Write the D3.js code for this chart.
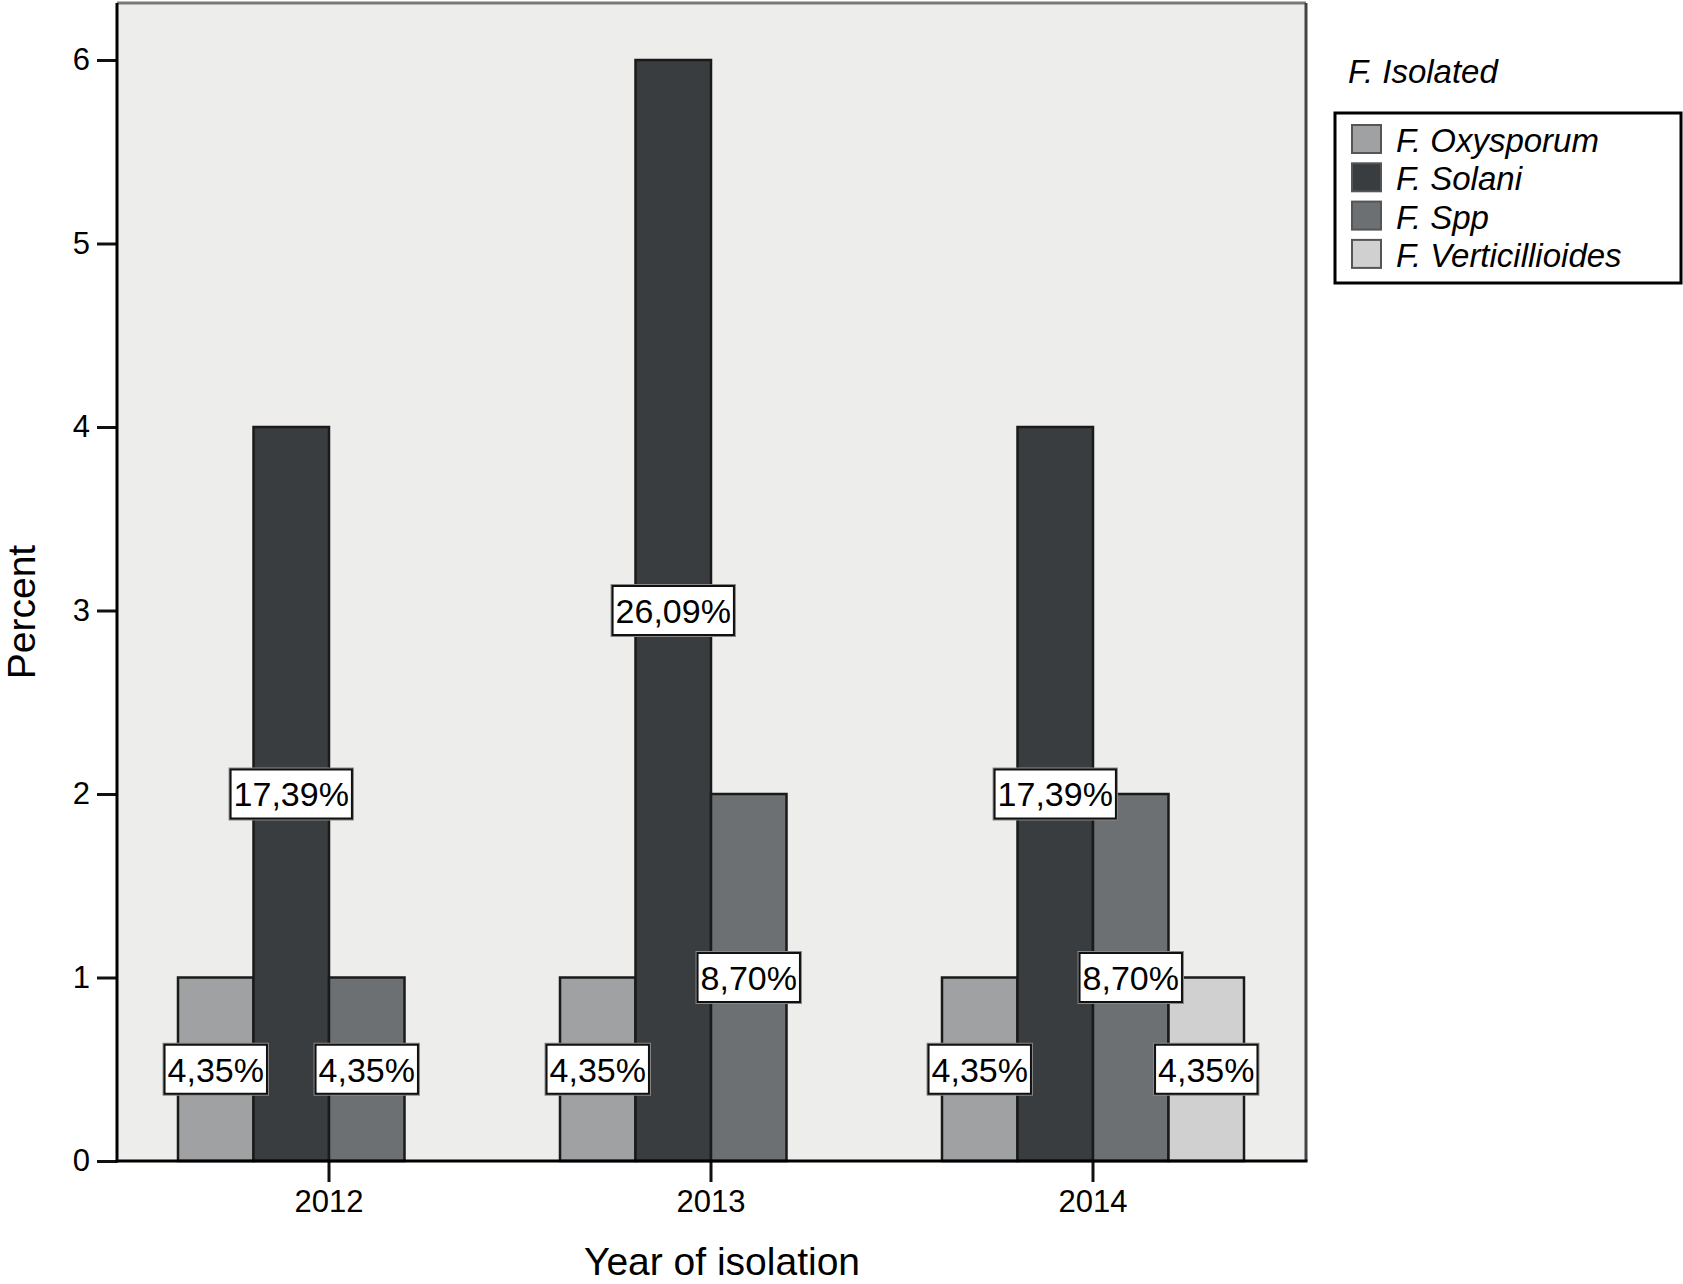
<!DOCTYPE html>
<html>
<head>
<meta charset="utf-8">
<script src="https://cdn.jsdelivr.net/npm/d3@7"></script>
<style>
  body { margin: 0; background: #fff; }
  svg { display: block; font-family: "Liberation Sans", Arial, sans-serif; }
</style>
</head>
<body>
<div id="graphicContainer"></div>
<script>
var years = ["2012", "2013", "2014"],
	species = ["F. Oxysporum", "F. Solani", "F. Spp", "F. Verticillioides"],
	colors = ["#9fa1a2", "#3a3d3f", "#6d7072", "#cfd0cf"];

// counts per year, one per species (same order as species)
var oxysporum = [1, 1, 1],
	solani = [4, 6, 4],
	spp = [1, 2, 2],
	verticillioides = [0, 0, 1];

var yTicks = [0, 1, 2, 3, 4, 5, 6];

var width = 1683,
	height = 1284,
	plot = {left: 117, right: 1306, top: 3, bottom: 1161};

var series = [oxysporum, solani, spp, verticillioides];
var total = d3.sum(series, function(s){ return d3.sum(s) });

var bars = [];
years.forEach(function(yr, i){
	species.forEach(function(sp, j){
		bars.push({year: yr, species: sp, idx: j, value: series[j][i]})
	})
});

var svg = d3.select("#graphicContainer")
			.append("svg")
			.attr('width', width)
			.attr('height', height),
	g = svg.append("g");

var x0 = d3.scaleBand().domain(years).range([138, 1284]),
	x1 = d3.scaleBand().domain(species).range([-151, 151]),
	y = d3.scaleLinear().domain([0, 6]).range([plot.bottom, 60]);

// plot background + frame
g.append('rect')
	.attr('x', plot.left).attr('y', plot.top)
	.attr('width', plot.right - plot.left).attr('height', plot.bottom - plot.top)
	.attr('fill', '#ededeb');
g.append('line')
	.attr('x1', plot.left).attr('x2', plot.right).attr('y1', plot.top).attr('y2', plot.top)
	.attr('stroke', '#7a7a7a').attr('stroke-width', 3);
g.append('line')
	.attr('x1', plot.right).attr('x2', plot.right).attr('y1', plot.top).attr('y2', plot.bottom)
	.attr('stroke', '#444').attr('stroke-width', 3);

// bars
g.selectAll('.bar')
	.data(bars.filter(function(d){ return d.value > 0 }))
	.enter().append('rect')
	.attr('class', 'bar')
	.attr('x', function(d){ return x0(d.year) + x0.bandwidth()/2 + x1(d.species) })
	.attr('width', x1.bandwidth())
	.attr('y', function(d){ return y(d.value) })
	.attr('height', function(d){ return y(0) - y(d.value) })
	.attr('fill', function(d){ return colors[d.idx] })
	.attr('stroke', '#1a1a1a')
	.attr('stroke-width', 2.5);

// axes
var yAxis = g.append('g')
	.attr('transform', 'translate(' + plot.left + ',0)')
	.call(d3.axisLeft(y).tickValues(yTicks).tickFormat(d3.format('d')).tickSize(20).tickPadding(7));
var xAxis = g.append('g')
	.attr('transform', 'translate(0,' + plot.bottom + ')')
	.call(d3.axisBottom(x0).tickSize(21).tickPadding(8));

[yAxis, xAxis].forEach(function(a){
	a.select('.domain').remove();
	a.selectAll('.tick line').attr('stroke', '#111').attr('stroke-width', 3);
	a.selectAll('.tick text').attr('fill', '#000').attr('font-family', '"Liberation Sans", Arial, sans-serif');
});
yAxis.selectAll('.tick text').attr('font-size', '31px');
xAxis.selectAll('.tick text').attr('font-size', '31px');

g.append('line')
	.attr('x1', plot.left).attr('x2', plot.left).attr('y1', plot.top).attr('y2', plot.bottom + 1.5)
	.attr('stroke', '#000').attr('stroke-width', 3);
g.append('line')
	.attr('x1', plot.left).attr('x2', plot.right + 1.5).attr('y1', plot.bottom).attr('y2', plot.bottom)
	.attr('stroke', '#000').attr('stroke-width', 3);

// value labels
var labelGroup = g.selectAll('.valLabel')
	.data(bars.filter(function(d){ return d.value > 0 }))
	.enter().append('g')
	.attr('class', 'valLabel')
	.attr('transform', function(d){
		return 'translate(' + (x0(d.year) + x0.bandwidth()/2 + x1(d.species) + x1.bandwidth()/2) + ',' + y(d.value/2) + ')'
	});

labelGroup.append('text')
	.text(function(d){ return (d.value / total * 100).toFixed(2).replace('.', ',') + '%' })
	.attr('font-size', '34px')
	.attr('text-anchor', 'middle')
	.attr('dy', '0.36em')
	.attr('fill', '#000');

labelGroup.each(function(){
	var grp = d3.select(this),
		bb = grp.select('text').node().getBBox(),
		w = bb.width + 6, h = 49;
	grp.insert('rect', 'text')
		.attr('x', -w/2 - 2).attr('y', -h/2 - 2)
		.attr('width', w + 4).attr('height', h + 4)
		.attr('fill', '#888');
	grp.insert('rect', 'text')
		.attr('x', -w/2).attr('y', -h/2)
		.attr('width', w).attr('height', h)
		.attr('fill', '#fff')
		.attr('stroke', '#111')
		.attr('stroke-width', 2);
});

// axis titles
g.append('text')
	.text('Percent')
	.attr('transform', 'translate(35,612) rotate(-90)')
	.attr('text-anchor', 'middle')
	.attr('font-size', '39px');
g.append('text')
	.text('Year of isolation')
	.attr('x', 722).attr('y', 1275)
	.attr('text-anchor', 'middle')
	.attr('font-size', '39px');

// legend
var legend = g.append('g');
legend.append('text')
	.text('F. Isolated')
	.attr('x', 1348).attr('y', 83)
	.attr('font-size', '33px')
	.attr('font-style', 'italic');
legend.append('rect')
	.attr('x', 1335).attr('y', 113)
	.attr('width', 346).attr('height', 170)
	.attr('fill', '#fff')
	.attr('stroke', '#000')
	.attr('stroke-width', 3);

var legItem = legend.selectAll('.legItem')
	.data(species)
	.enter().append('g')
	.attr('class', 'legItem')
	.attr('transform', function(d, i){ return 'translate(1352,' + (139 + i*38.3) + ')' });

legItem.append('rect')
	.attr('x', 0).attr('y', -14)
	.attr('width', 29).attr('height', 28)
	.attr('fill', function(d, i){ return colors[i] })
	.attr('stroke', '#555')
	.attr('stroke-width', 2);
legItem.append('text')
	.text(function(d){ return d })
	.attr('x', 44).attr('y', 13)
	.attr('font-size', '33px')
	.attr('font-style', 'italic');
</script>
</body>
</html>
